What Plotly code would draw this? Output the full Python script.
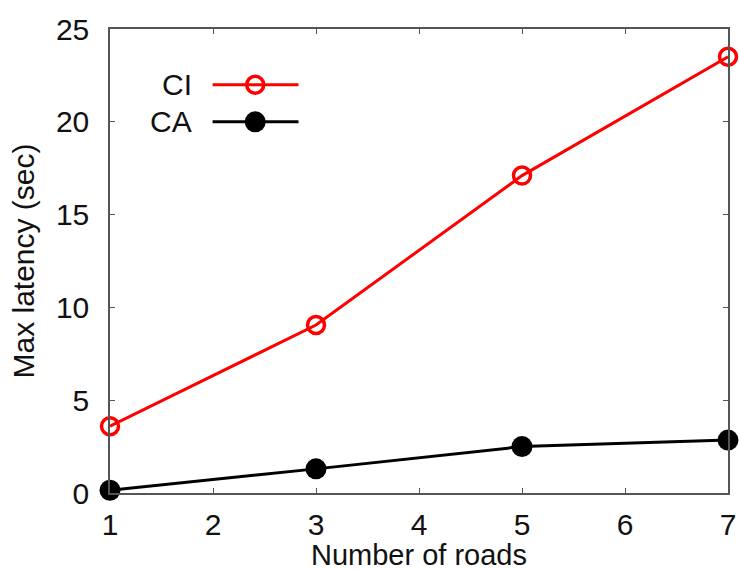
import plotly.graph_objects as go

roads = [1, 3, 5, 7]
ci_latency = [3.6, 9.05, 17.1, 23.5]
ca_latency = [0.15, 1.3, 2.5, 2.85]
series_names = ["CI", "CA"]

FONT = dict(family="Liberation Sans, Arial, sans-serif", size=30, color="#111")
TFONT = dict(family="Liberation Sans, Arial, sans-serif", size=29, color="#111")
AX = "#555555"

fig = go.Figure()
fig.add_trace(go.Scatter(x=roads, y=ci_latency, mode="lines+markers", name=series_names[0],
                         line=dict(color="#ff0000", width=3),
                         marker=dict(symbol="circle-open", size=17, color="#ff0000",
                                     line=dict(width=3.5, color="#ff0000")),
                         showlegend=False, cliponaxis=False))
fig.add_trace(go.Scatter(x=roads, y=ca_latency, mode="lines+markers", name=series_names[1],
                         line=dict(color="#000000", width=3),
                         marker=dict(symbol="circle", size=21, color="#000000"),
                         showlegend=False, cliponaxis=False))

# custom legend (text left of sample) on an overlay axis in [0,1]
leg_y = [0.88, 0.80]
leg_styles = [
    dict(line=dict(color="#ff0000", width=3),
         marker=dict(symbol="circle-open", size=17, color="#ff0000", line=dict(width=3.5, color="#ff0000"))),
    dict(line=dict(color="#000000", width=3),
         marker=dict(symbol="circle", size=21, color="#000000")),
]
for name, yy, st in zip(series_names, leg_y, leg_styles):
    fig.add_trace(go.Scatter(x=[0.166, 0.235, 0.305], y=[yy, yy, yy], mode="lines",
                             line=st["line"], xaxis="x2", yaxis="y2", showlegend=False,
                             hoverinfo="skip"))
    fig.add_trace(go.Scatter(x=[0.235], y=[yy], mode="markers", marker=st["marker"],
                             xaxis="x2", yaxis="y2", showlegend=False, hoverinfo="skip"))
    fig.add_annotation(x=0.136, y=yy, xref="x2", yref="y2", text=name, showarrow=False,
                       xanchor="right", yanchor="middle", font=FONT)

fig.update_layout(
    width=739, height=571,
    margin=dict(l=110, r=11, t=29, b=78, autoexpand=False),
    plot_bgcolor="white", paper_bgcolor="white",
    font=FONT,
    xaxis=dict(range=[1, 7], tickvals=[1, 2, 3, 4, 5, 6, 7], ticks="inside", ticklen=5,
               tickcolor=AX, showline=True, linecolor=AX, linewidth=1.5, mirror="ticks",
               showgrid=False, zeroline=False, ticklabelstandoff=4, automargin=False,
               ticklabeloverflow="allow",
               title=dict(text="Number of roads", standoff=12, font=TFONT)),
    yaxis=dict(range=[0, 25], tickvals=[0, 5, 10, 15, 20, 25], ticks="inside", ticklen=5,
               tickcolor=AX, showline=True, linecolor=AX, linewidth=1.5, mirror="ticks",
               showgrid=False, zeroline=False, ticklabelstandoff=13, automargin=False,
               ticklabeloverflow="allow",
               title=dict(text="Max latency (sec)", standoff=12, font=FONT)),
    xaxis2=dict(range=[0, 1], overlaying="x", visible=False, showgrid=False, zeroline=False),
    yaxis2=dict(range=[0, 1], overlaying="y", visible=False, showgrid=False, zeroline=False),
)

fig.write_html(
    "out.html",
    config={"displayModeBar": False},
    post_script=("document.body.style.margin='0';"
                 "document.body.style.overflow='hidden';"
                 "document.documentElement.style.overflow='hidden';"),
)
